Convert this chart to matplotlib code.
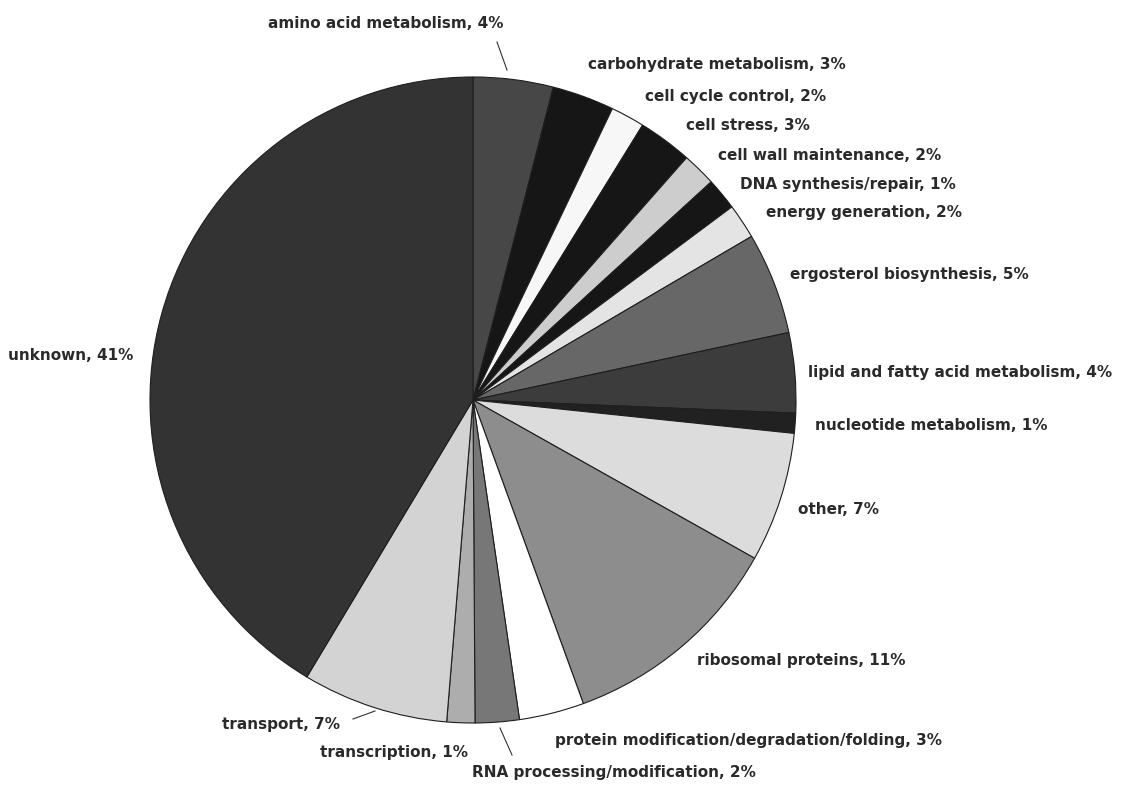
import matplotlib
matplotlib.use("Agg")
import matplotlib.pyplot as plt

categories = [
    "amino acid metabolism", "carbohydrate metabolism", "cell cycle control",
    "cell stress", "cell wall maintenance", "DNA synthesis/repair",
    "energy generation", "ergosterol biosynthesis", "lipid and fatty acid metabolism",
    "nucleotide metabolism", "other", "ribosomal proteins",
    "protein modification/degradation/folding", "RNA processing/modification",
    "transcription", "transport", "unknown",
]
# slice shares (percent)
shares = [4.0, 3.1, 1.7, 2.7, 1.7, 1.6, 1.75, 5.1, 4.0, 1.0, 6.5, 11.3,
          3.25, 2.2, 1.4, 7.3, 41.4]
# percentages as printed in the labels
label_pct = [4, 3, 2, 3, 2, 1, 2, 5, 4, 1, 7, 11, 3, 2, 1, 7, 41]

colors = ["#474747", "#161616", "#f7f7f7", "#161616", "#cdcdcd", "#161616",
          "#e4e4e4", "#676767", "#3c3c3c", "#212121", "#dcdcdc", "#8d8d8d",
          "#ffffff", "#777777", "#adadad", "#d3d3d3", "#333333"]

W, H = 1121, 786
fig = plt.figure(figsize=(W / 100, H / 100), dpi=100)
ax = fig.add_axes([0, 0, 1, 1])

cx, cy, r = 473, 400, 323
ax.pie(shares, colors=colors, startangle=90, counterclock=False,
       center=(cx, H - cy), radius=r,
       wedgeprops=dict(edgecolor="#1e1e1e", linewidth=0.8))

# label layout (pixel positions of left edge / vertical centre)
label_pos = [(268, 24), (588, 64), (645, 97), (686, 126), (718, 155),
             (740, 185), (766, 213), (790, 275), (808, 373), (815, 425),
             (798, 510), (697, 660), (555, 740), (472, 773), (320, 752),
             (222, 725), (8, 355)]

for name, pct, (x, y) in zip(categories, label_pct, label_pos):
    ax.text(x, H - y, f"{name}, {pct}%", ha="left", va="center",
            fontsize=11, fontweight="bold", color="#2a2a2a",
            family=["DejaVu Sans"])

# leader lines
leaders = [((497, 42), (507, 70)), ((353, 719), (375, 711)), ((500, 728), (512, 755))]
for (x0, y0), (x1, y1) in leaders:
    ax.plot([x0, x1], [H - y0, H - y1], color="#333333", linewidth=0.8)

ax.set_xlim(0, W)
ax.set_ylim(0, H)
ax.set_aspect("equal")
ax.axis("off")
fig.savefig("out.png", dpi=100, facecolor="white")
